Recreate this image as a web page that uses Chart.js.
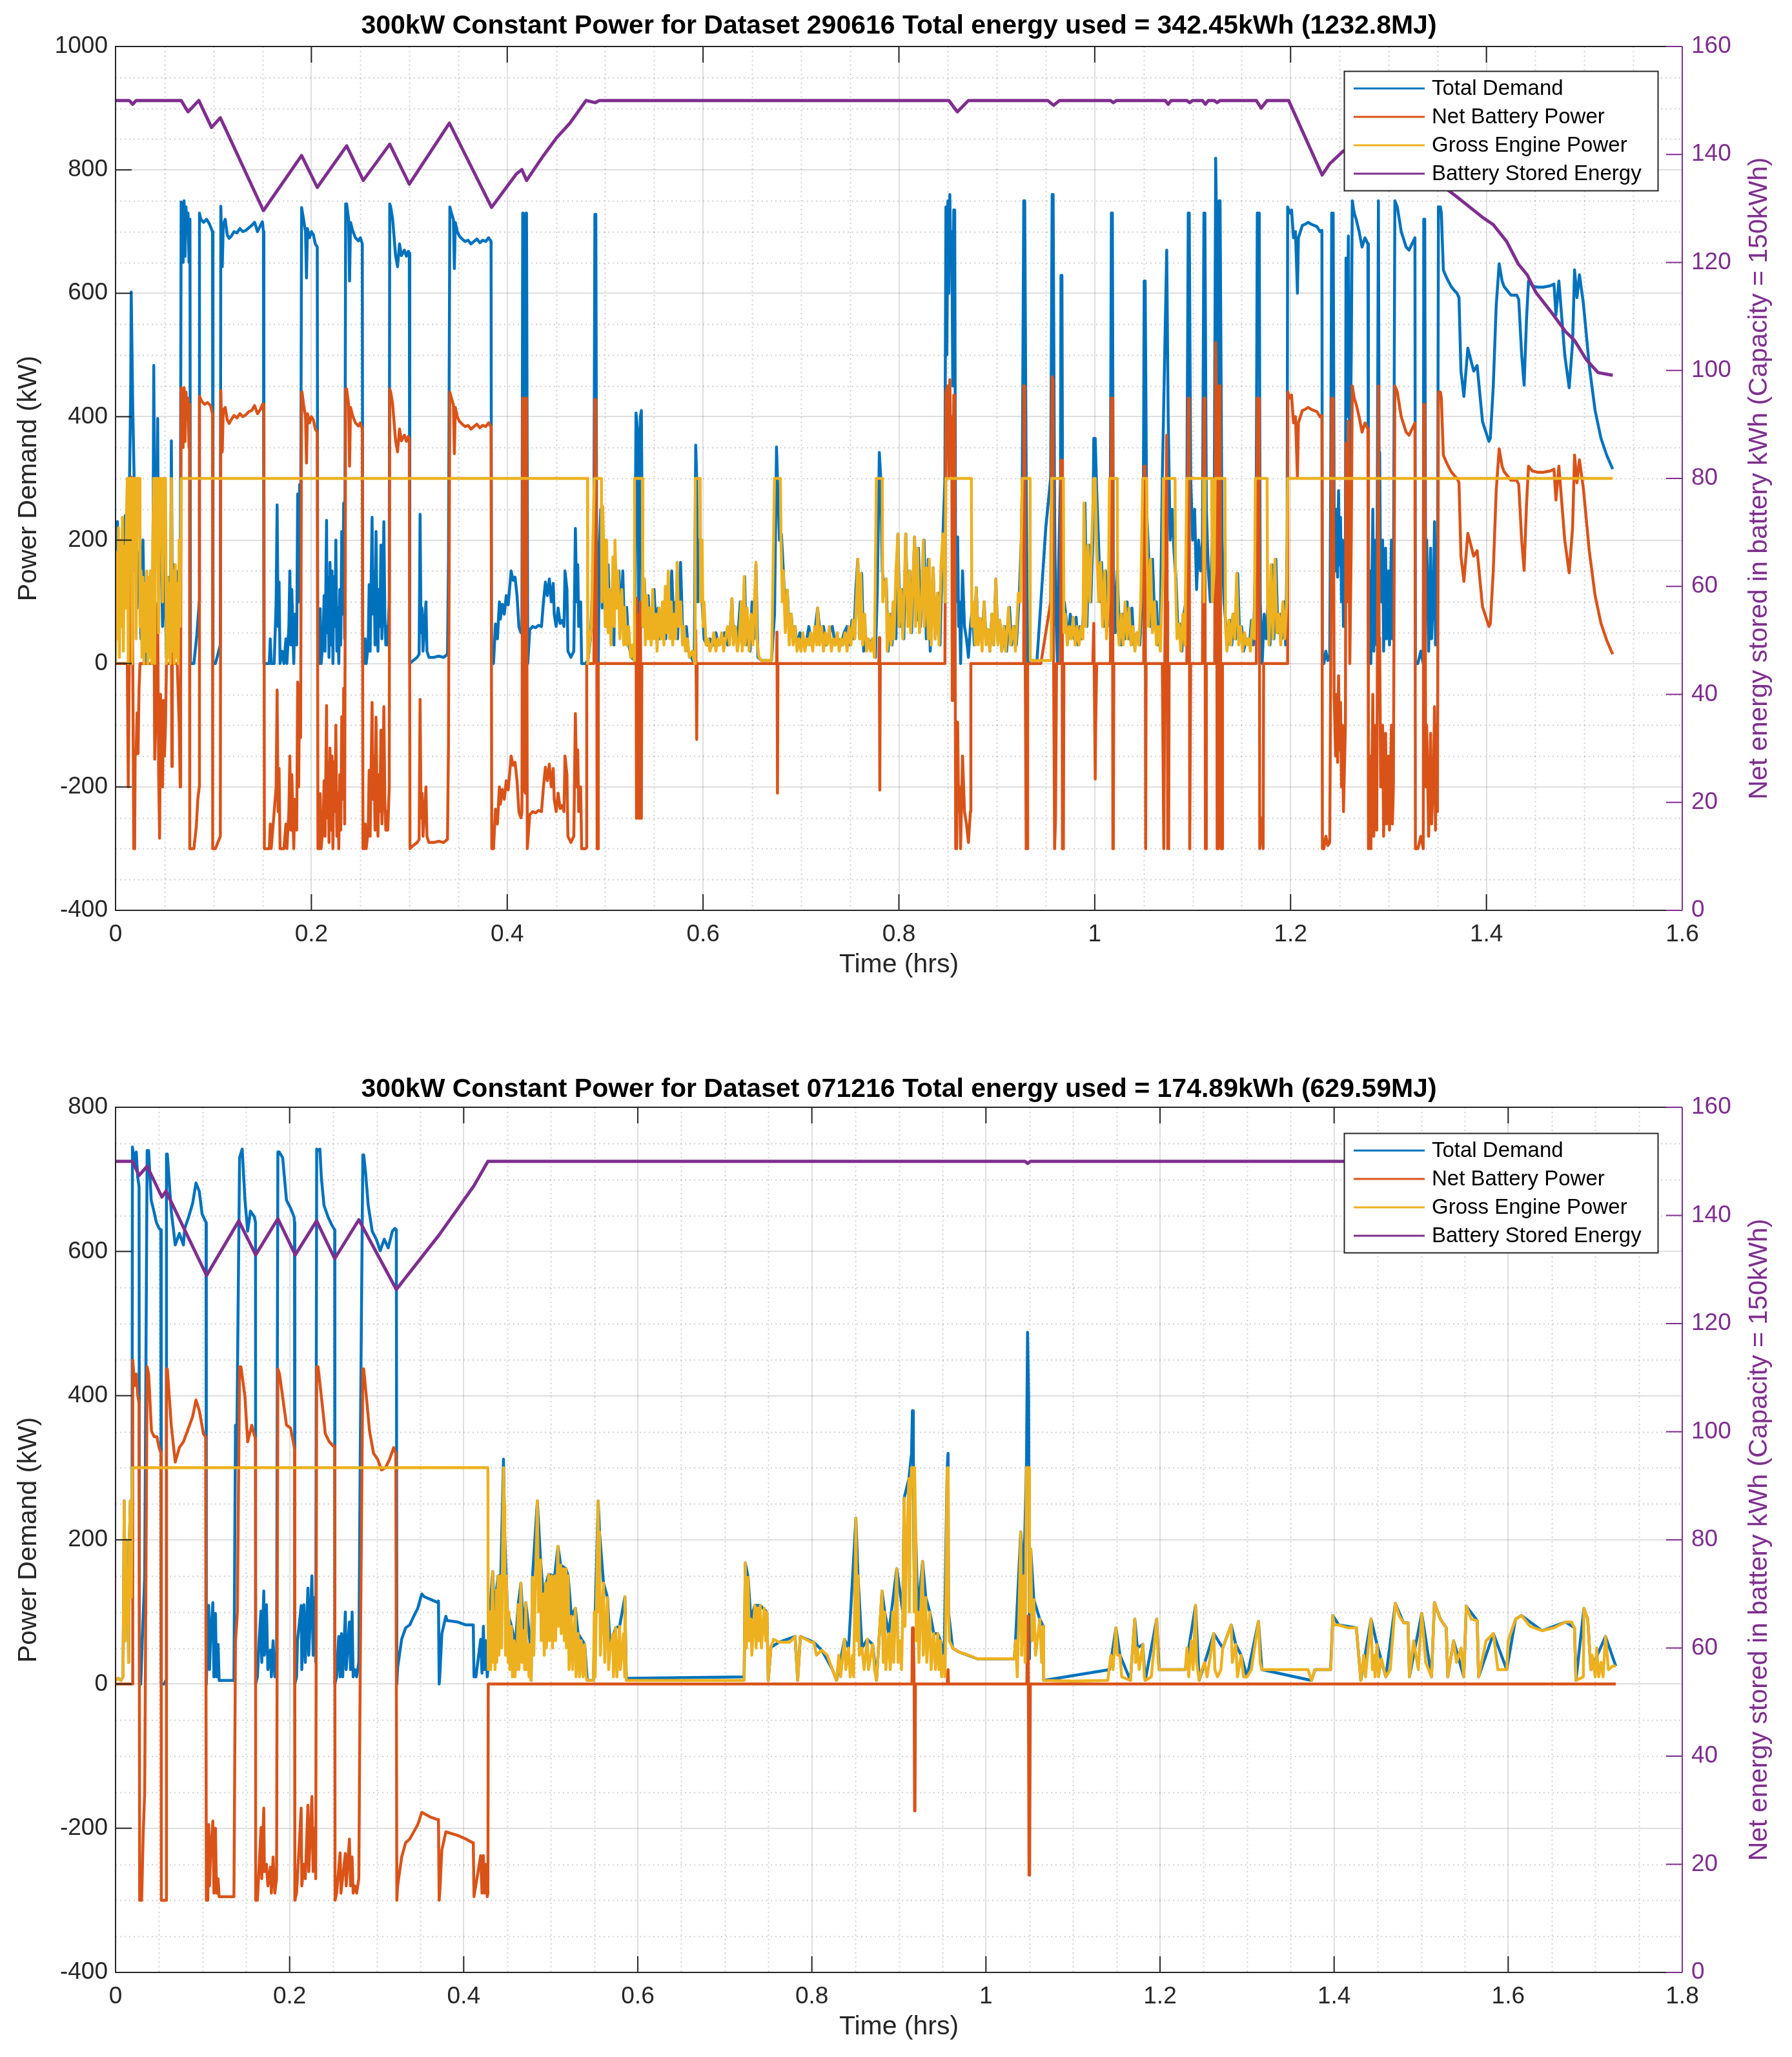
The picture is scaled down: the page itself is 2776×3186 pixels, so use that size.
<!DOCTYPE html>
<html lang="en">
<head>
  <meta charset="UTF-8" />
  <title>300kW Constant Power</title>
  <script src="https://cdn.jsdelivr.net/npm/chart.js"></script>
  <style>
    body { margin: 0; background: #fff; }
    .wrap { position: absolute; left: 0; width: 2776px; }
    #topWrap { top: 0; height: 1560px; }
    #botWrap { top: 1643px; height: 1543px; }
  </style>
</head>
<body>
  <div class="wrap" id="topWrap"><canvas id="topChart" width="2776" height="1560"></canvas></div>
  <div class="wrap" id="botWrap"><canvas id="botChart" width="2776" height="1543"></canvas></div>

  <script>
    // ---- Dataset 290616 (top) : [time hrs, kW] ----
    const topDemand = [
      [0,150],[0.002,230],[0.004,120],[0.006,200],[0.008,160],[0.010,240],[0.012,200],[0.014,260],[0.0155,450],[0.016,602],[0.0175,420],[0.019,300],[0.020,150],[0.021,230],[0.022,90],[0.024,180],[0.026,40],[0.028,200],[0.030,0],[0.032,130],[0.034,20],[0.036,150],[0.038,60],[0.039,483],[0.040,250],[0.042,200],[0.043,397],[0.044,120],[0.046,250],[0.048,60],[0.050,180],[0.052,10],[0.054,140],[0.056,30],[0.057,361],[0.058,80],[0.060,160],[0.062,20],[0.064,150],[0.066,40],
      [0.067,748],[0.069,650],[0.070,750],[0.071,660],[0.072,740],[0.073,700],[0.074,730],[0.075,650],[0.076,720],[0.0765,0],[0.080,0],[0.083,46],[0.0855,100],[0.0857,730],[0.087,720],[0.090,715],[0.093,720],[0.096,712],[0.099,700],[0.0995,0],[0.102,0],[0.105,18],[0.107,30],
      [0.1075,741],[0.109,643],[0.110,711],[0.112,720],[0.114,695],[0.116,689],[0.118,692],[0.121,700],[0.124,698],[0.127,705],[0.130,700],[0.133,702],[0.136,706],[0.139,710],[0.142,715],[0.145,700],[0.148,710],[0.150,716],[0.151,700],[0.1515,0],
      [0.154,0],[0.157,0],[0.158,40],[0.159,0],[0.162,0],[0.164,100],[0.165,257],[0.166,60],[0.167,132],[0.168,0],[0.170,20],[0.172,0],[0.174,40],[0.175,0],[0.177,60],[0.178,150],[0.179,30],[0.180,120],[0.182,0],[0.183,80],[0.185,30],[0.186,275],[0.187,100],[0.188,290],[0.189,180],
      [0.190,739],[0.192,720],[0.194,700],[0.195,625],[0.196,705],[0.198,690],[0.200,700],[0.202,695],[0.204,680],[0.206,675],[0.2065,0],
      [0.208,0],[0.209,89],[0.210,0],[0.212,40],[0.213,110],[0.214,20],[0.2155,232],[0.216,50],[0.217,140],[0.218,10],[0.219,164],[0.220,30],[0.221,150],[0.222,0],[0.223,141],[0.224,60],[0.225,200],[0.226,20],[0.227,90],[0.228,0],[0.229,120],[0.230,30],[0.231,214],[0.232,80],[0.233,260],[0.234,40],
      [0.235,745],[0.236,745],[0.238,720],[0.239,620],[0.240,715],[0.242,702],[0.245,690],[0.248,685],[0.250,690],[0.252,680],[0.2525,0],
      [0.254,0],[0.255,40],[0.256,0],[0.258,30],[0.259,128],[0.260,20],[0.262,237],[0.263,80],[0.264,150],[0.265,30],[0.266,214],[0.267,80],[0.268,20],[0.269,120],[0.270,60],[0.271,192],[0.272,40],[0.273,100],[0.274,230],[0.275,80],[0.276,30],[0.277,60],[0.278,30],[0.2795,100],
      [0.280,745],[0.281,740],[0.283,720],[0.284,700],[0.286,661],[0.288,643],[0.290,680],[0.292,661],[0.295,670],[0.297,660],[0.299,668],[0.300,665],[0.3005,0],
      [0.304,5],[0.308,10],[0.310,15],[0.311,242],[0.312,50],[0.313,90],[0.314,20],[0.317,100],[0.318,20],[0.320,10],[0.325,10],[0.330,12],[0.335,10],[0.339,15],[0.340,169],
      [0.3414,740],[0.343,730],[0.345,720],[0.346,640],[0.347,715],[0.349,700],[0.351,693],[0.354,688],[0.357,684],[0.360,686],[0.363,680],[0.366,684],[0.369,688],[0.372,682],[0.375,686],[0.378,684],[0.381,690],[0.3835,684],[0.384,0],
      [0.386,0],[0.388,64],[0.390,40],[0.392,100],[0.393,72],[0.395,96],[0.397,80],[0.399,110],[0.401,95],[0.404,150],[0.406,135],[0.408,140],[0.410,110],[0.412,59],[0.414,50],
      [0.415,60],[0.4158,730],[0.4163,730],[0.417,100],[0.4185,90],[0.4192,730],[0.4197,730],[0.421,0],
      [0.423,55],[0.426,60],[0.429,58],[0.432,62],[0.435,60],[0.437,100],[0.439,132],[0.441,110],[0.443,137],[0.445,100],[0.447,130],[0.448,80],[0.450,60],[0.452,90],[0.454,65],[0.456,70],[0.458,60],[0.459,150],[0.461,120],[0.462,20],[0.465,10],[0.468,20],[0.4696,219],[0.471,100],[0.472,160],[0.473,60],[0.475,100],[0.476,0],[0.480,0],[0.4825,5],
      [0.485,40],[0.487,120],[0.4885,220],[0.4895,728],[0.4905,728],[0.4915,90],[0.493,0],[0.494,180],[0.4955,250],[0.497,90],[0.499,200],[0.501,60],[0.503,160],[0.505,50],[0.507,120],[0.509,30],[0.510,173],[0.512,90],[0.514,150],[0.516,60],[0.518,150],[0.520,40],[0.522,91],[0.524,30],[0.527,10],[0.530,5],
      [0.5315,406],[0.533,380],[0.5345,0],[0.536,400],[0.537,410],[0.5385,60],[0.540,137],[0.542,50],[0.544,110],[0.546,40],[0.548,80],[0.550,120],[0.552,50],[0.554,90],[0.556,40],[0.558,70],[0.560,100],[0.562,40],[0.564,125],[0.566,50],[0.568,150],[0.570,60],[0.572,100],[0.574,40],[0.577,164],[0.579,60],[0.581,50],[0.583,60],[0.585,20],[0.588,10],[0.591,0],
      [0.5925,354],[0.5935,300],[0.5945,100],[0.5955,200],[0.597,200],[0.599,100],[0.601,40],[0.604,30],[0.607,40],[0.610,30],[0.613,50],[0.616,30],[0.619,40],[0.622,50],[0.625,30],[0.628,60],[0.6295,105],[0.631,40],[0.633,60],[0.635,30],[0.638,100],[0.640,30],[0.6425,141],[0.644,30],[0.646,60],[0.648,20],[0.650,100],[0.652,40],[0.654,160],[0.656,10],[0.660,5],[0.665,5],[0.670,5],[0.673,80],
      [0.675,351],[0.676,300],[0.678,200],[0.680,210],[0.682,150],[0.684,80],[0.686,119],[0.688,50],[0.690,80],[0.692,40],[0.694,60],[0.696,30],[0.699,50],[0.702,30],[0.705,30],[0.708,60],[0.711,30],[0.714,50],[0.717,90],[0.720,40],[0.723,60],[0.726,30],[0.729,50],[0.732,60],[0.735,30],[0.738,40],[0.741,30],[0.744,50],[0.747,60],[0.750,30],[0.752,70],[0.754,40],[0.756,120],[0.758,169],[0.760,40],[0.762,146],[0.764,20],[0.767,40],[0.770,30],[0.773,40],[0.776,10],[0.778,120],
      [0.780,342],[0.7815,300],[0.783,150],[0.785,120],[0.787,137],[0.789,20],[0.791,80],[0.793,30],[0.795,100],[0.797,40],[0.799,210],[0.801,60],[0.803,120],[0.805,40],[0.807,210],[0.809,80],[0.811,150],[0.813,50],[0.816,205],[0.818,70],[0.820,187],[0.822,60],[0.824,120],
      [0.8257,200],[0.828,40],[0.830,169],[0.832,20],[0.835,155],[0.837,40],[0.840,114],[0.842,30],[0.844,160],[0.845,210],[0.847,300],[0.848,740],[0.849,500],[0.850,750],[0.851,600],[0.852,760],[0.853,650],[0.854,700],[0.855,450],[0.856,735],[0.857,735],[0.858,100],[0.860,205],[0.861,60],[0.862,100],[0.863,0],[0.865,150],[0.867,60],[0.869,40],[0.871,10],
      [0.873,60],[0.875,90],[0.877,30],[0.879,123],[0.881,40],[0.883,73],[0.885,30],[0.887,100],[0.889,40],[0.891,55],[0.893,20],[0.895,80],[0.897,30],[0.899,137],[0.901,40],[0.903,70],[0.905,20],[0.908,60],[0.910,20],[0.913,91],[0.915,30],[0.918,60],[0.920,30],[0.923,114],[0.925,200],[0.926,300],
      [0.9275,750],[0.9285,750],[0.930,300],[0.9315,0],[0.934,5],[0.937,5],[0.941,5],[0.945,100],[0.950,220],[0.955,301],[0.9565,760],[0.9575,760],[0.959,250],[0.960,100],[0.962,0],[0.963,150],[0.965,300],[0.9655,629],[0.9665,629],[0.9675,50],
      [0.969,100],[0.971,70],[0.973,40],[0.975,80],[0.977,60],[0.979,40],[0.981,75],[0.983,30],[0.985,60],[0.987,40],[0.989,100],[0.990,260],[0.992,60],[0.994,192],[0.996,100],[0.998,200],[0.999,365],[1.0005,365],[1.002,280],[1.004,192],[1.006,100],[1.007,164],[1.009,60],[1.011,150],[1.013,60],[1.0145,100],
      [1.016,300],[1.017,730],[1.018,730],[1.019,150],[1.021,50],[1.023,150],[1.025,60],[1.027,30],[1.029,80],[1.031,40],[1.033,100],[1.035,40],[1.038,90],[1.040,30],[1.043,50],[1.046,30],[1.048,100],[1.0495,200],[1.0505,620],[1.0515,620],[1.053,250],[1.055,178],[1.057,60],[1.059,169],[1.061,80],[1.063,100],[1.065,30],[1.067,60],
      [1.069,300],[1.0735,670],[1.075,400],[1.077,200],[1.079,250],[1.081,180],[1.083,137],[1.085,50],[1.087,64],[1.089,20],[1.091,80],[1.093,100],[1.094,250],[1.0955,730],[1.0965,730],[1.098,300],[1.100,200],[1.102,250],[1.104,120],[1.106,200],[1.108,150],[1.110,200],[1.1115,730],[1.1125,730],[1.114,250],[1.116,150],[1.118,100],[1.120,200],[1.122,250],
      [1.1235,819],[1.1245,700],[1.126,300],[1.127,750],[1.128,750],[1.130,200],[1.132,100],[1.134,60],[1.136,30],[1.138,70],[1.140,30],[1.142,80],[1.144,40],[1.146,146],[1.148,40],[1.150,60],[1.152,20],[1.155,40],[1.158,30],[1.160,70],[1.162,30],[1.164,150],[1.165,300],[1.166,730],[1.168,730],[1.169,100],[1.171,0],
      [1.173,80],[1.175,40],[1.177,100],[1.179,30],[1.181,160],[1.183,40],[1.185,169],[1.187,50],[1.189,80],[1.191,40],[1.193,100],[1.195,30],[1.1965,200],
      [1.197,740],[1.199,730],[1.201,735],[1.203,690],[1.205,700],[1.207,600],[1.208,690],[1.210,700],[1.212,710],[1.215,712],[1.218,715],[1.221,712],[1.224,710],[1.227,708],[1.230,700],[1.232,702],[1.2325,0],[1.234,0],[1.236,20],[1.238,5],[1.240,10],
      [1.241,300],[1.242,730],[1.2435,730],[1.2445,246],[1.246,150],[1.247,250],[1.248,140],[1.249,280],[1.250,160],[1.251,237],[1.252,100],[1.253,200],[1.254,60],[1.256,200],[1.2566,657],[1.2575,400],[1.259,693],[1.2605,300],[1.262,500],
      [1.263,750],[1.265,730],[1.267,720],[1.270,700],[1.273,675],[1.276,690],[1.279,680],[1.2795,0],[1.281,150],[1.282,0],[1.284,250],[1.285,20],[1.287,200],[1.288,30],[1.2897,750],[1.290,750],[1.2905,300],[1.291,342],[1.292,100],[1.294,200],[1.295,20],[1.297,187],[1.298,40],[1.300,150],[1.301,30],[1.303,200],[1.304,40],[1.305,100],
      [1.3065,750],[1.309,740],[1.311,720],[1.313,700],[1.315,690],[1.318,675],[1.321,670],[1.324,680],[1.327,690],[1.3275,0],[1.330,0],[1.333,20],[1.3355,0],[1.336,720],[1.337,720],[1.338,100],[1.339,200],[1.341,20],[1.343,187],[1.344,40],[1.346,120],[1.347,230],[1.348,30],[1.349,200],[1.350,60],
      [1.351,740],[1.353,740],[1.354,730],[1.356,638],[1.358,630],[1.361,620],[1.364,611],[1.367,605],[1.370,600],[1.372,593],[1.374,474],[1.377,433],[1.381,511],[1.387,474],[1.3905,483],[1.396,392],[1.4026,360],[1.404,365],[1.407,450],[1.410,580],[1.413,648],[1.416,620],[1.418,611],[1.421,605],[1.425,597],[1.431,597],[1.433,590],[1.436,500],[1.4385,451],[1.441,560],[1.443,620],[1.447,612],[1.452,610],[1.458,610],[1.465,612],[1.469,615],[1.471,565],[1.474,620],[1.477,560],[1.480,500],[1.4845,447],[1.488,520],[1.490,638],[1.4925,593],[1.495,630],[1.499,584],[1.505,483],[1.511,410],[1.517,365],[1.523,337],[1.529,315]
    ];

    const topBattery = [
      [0,0],[0.010,0],[0.012,0],[0.013,-200],[0.014,0],[0.0145,100],[0.015,0],[0.016,302],[0.0172,120],[0.0186,-300],[0.019,-150],[0.0195,-300],[0.020,-150],[0.021,-146],[0.022,-80],[0.023,-146],[0.024,-40],[0.025,0],[0.038,0],[0.039,183],[0.040,-155],[0.041,-100],[0.0425,91],[0.043,97],[0.044,-180],[0.045,-283],[0.046,-50],[0.047,-120],[0.048,-200],[0.049,-60],[0.050,-150],[0.051,-100],[0.052,0],[0.056,0],[0.057,61],[0.0575,-167],[0.058,0],[0.063,0],[0.065,-100],[0.066,-200],[0.0665,-60],
      [0.067,447],[0.069,350],[0.070,447],[0.071,360],[0.072,440],[0.073,400],[0.074,430],[0.075,350],[0.0755,420],[0.0758,-300],[0.080,-300],[0.0825,-264],[0.084,-220],[0.0855,-200],[0.0857,433],[0.088,425],[0.091,420],[0.094,423],[0.097,418],[0.099,405],[0.0992,-300],[0.102,-300],[0.1045,-290],[0.107,-280],
      [0.1075,442],[0.109,343],[0.110,411],[0.112,415],[0.114,395],[0.116,389],[0.118,395],[0.121,402],[0.124,398],[0.127,405],[0.130,400],[0.133,403],[0.136,408],[0.139,410],[0.142,418],[0.145,405],[0.148,412],[0.150,420],[0.1515,420],[0.152,-300],
      [0.155,-300],[0.157,-300],[0.158,-260],[0.159,-300],[0.164,-200],[0.165,-43],[0.166,-240],[0.167,-170],[0.168,-300],[0.172,-300],[0.174,-260],[0.175,-300],[0.177,-240],[0.178,-150],[0.179,-270],[0.180,-180],[0.182,-300],[0.183,-220],[0.185,-270],[0.186,-30],[0.187,-200],[0.188,-35],[0.189,-120],
      [0.190,440],[0.1905,439],[0.192,420],[0.194,400],[0.195,325],[0.196,405],[0.198,390],[0.200,400],[0.202,395],[0.204,380],[0.206,375],[0.2067,-300],
      [0.208,-300],[0.209,-211],[0.210,-300],[0.212,-260],[0.213,-190],[0.214,-280],[0.2155,-68],[0.216,-250],[0.217,-160],[0.218,-290],[0.219,-137],[0.220,-270],[0.221,-150],[0.222,-300],[0.223,-159],[0.224,-240],[0.225,-100],[0.226,-280],[0.227,-210],[0.228,-300],[0.229,-180],[0.230,-270],[0.231,-86],[0.232,-220],[0.233,-40],[0.234,-260],
      [0.235,445],[0.236,445],[0.238,420],[0.239,320],[0.240,415],[0.242,402],[0.245,390],[0.248,385],[0.250,390],[0.252,380],[0.2527,-300],
      [0.254,-300],[0.255,-260],[0.256,-300],[0.258,-270],[0.259,-173],[0.260,-280],[0.262,-63],[0.263,-220],[0.264,-150],[0.265,-270],[0.266,-87],[0.267,-220],[0.268,-280],[0.269,-180],[0.270,-240],[0.271,-108],[0.272,-260],[0.273,-200],[0.274,-70],[0.275,-220],[0.276,-270],[0.277,-240],[0.278,-270],[0.2795,-200],
      [0.280,445],[0.281,440],[0.283,420],[0.284,400],[0.286,361],[0.288,343],[0.290,380],[0.292,361],[0.295,370],[0.297,360],[0.299,368],[0.300,365],[0.3007,-300],
      [0.304,-295],[0.308,-290],[0.310,-285],[0.311,-58],[0.312,-250],[0.313,-210],[0.314,-280],[0.317,-200],[0.318,-280],[0.320,-290],[0.325,-290],[0.330,-288],[0.335,-290],[0.339,-285],[0.340,-131],
      [0.3414,440],[0.343,430],[0.345,420],[0.346,340],[0.347,415],[0.349,400],[0.351,393],[0.354,388],[0.357,384],[0.360,386],[0.363,380],[0.366,384],[0.369,388],[0.372,382],[0.375,386],[0.378,384],[0.381,390],[0.3835,384],[0.3842,-300],
      [0.386,-300],[0.388,-236],[0.390,-260],[0.392,-200],[0.393,-228],[0.395,-204],[0.397,-220],[0.399,-190],[0.401,-205],[0.404,-150],[0.406,-165],[0.408,-160],[0.410,-190],[0.412,-241],[0.414,-250],
      [0.415,-240],[0.4158,430],[0.4163,430],[0.417,-200],[0.4185,-210],[0.4192,430],[0.4197,430],[0.4205,-300],[0.423,-245],[0.426,-240],[0.429,-242],[0.432,-238],[0.435,-240],[0.437,-200],[0.439,-168],[0.441,-190],[0.443,-163],[0.445,-200],[0.447,-170],[0.448,-220],[0.450,-240],[0.452,-210],[0.454,-235],[0.456,-230],[0.458,-240],[0.459,-150],[0.461,-180],[0.462,-280],[0.465,-290],[0.468,-280],[0.4696,-81],[0.471,-200],[0.472,-140],[0.473,-240],[0.475,-200],[0.476,-300],[0.480,-300],[0.481,-298],[0.4812,0],
      [0.4885,0],[0.4895,428],[0.4905,428],[0.4915,0],[0.4918,-300],[0.4925,-300],[0.493,0],[0.531,0],[0.5315,106],[0.532,-251],[0.533,80],[0.5345,-251],[0.535,0],[0.536,100],[0.537,-251],[0.5375,0],[0.592,0],[0.5925,54],[0.5935,-123],[0.594,0],[0.675,0],[0.6755,51],[0.676,-210],[0.6765,0],[0.7795,0],[0.780,42],[0.7805,-205],[0.781,0],
      [0.847,0],[0.848,440],[0.850,450],[0.851,300],[0.852,460],[0.853,350],[0.854,400],[0.8545,-60],[0.855,150],[0.856,435],[0.857,435],[0.8575,0],[0.858,-300],[0.859,-300],[0.860,-95],[0.861,-240],[0.862,-200],[0.863,-300],[0.865,-150],[0.867,-240],[0.869,-260],[0.871,-290],[0.873,-240],[0.8735,0],
      [0.927,0],[0.9275,450],[0.9285,450],[0.929,0],[0.930,-300],[0.931,-300],[0.9315,0],[0.945,0],[0.955,100],[0.9565,465],[0.9575,460],[0.958,0],[0.959,-300],[0.960,-250],[0.961,0],[0.965,0],[0.9655,329],[0.9665,329],[0.967,-300],[0.968,-300],[0.9685,0],
      [0.998,0],[0.999,65],[1.0005,-187],[1.001,-100],[1.002,0],[1.016,0],[1.017,430],[1.018,430],[1.0185,-300],[1.019,-300],[1.0195,0],[1.050,0],[1.0505,320],[1.0515,320],[1.052,-300],[1.0525,0],
      [1.069,0],[1.0705,-300],[1.0715,0],[1.0735,370],[1.074,100],[1.0745,-300],[1.0755,-300],[1.076,0],[1.094,0],[1.0955,430],[1.0965,430],[1.097,-300],[1.0975,-300],[1.098,0],[1.110,0],[1.1115,430],[1.1125,430],[1.113,-300],[1.1135,-300],[1.114,0],[1.1225,0],[1.1235,520],[1.1245,400],[1.125,-300],[1.126,-300],[1.127,450],[1.128,450],[1.129,-300],[1.130,-300],[1.1305,0],
      [1.165,0],[1.166,430],[1.168,430],[1.1685,-300],[1.170,-250],[1.172,-300],[1.1725,0],[1.197,0],
      [1.1972,440],[1.199,430],[1.201,435],[1.203,390],[1.205,400],[1.207,300],[1.208,390],[1.210,400],[1.212,410],[1.215,412],[1.218,415],[1.221,412],[1.224,410],[1.227,408],[1.230,400],[1.232,402],[1.2325,-300],[1.234,-300],[1.236,-280],[1.238,-295],[1.240,-290],
      [1.241,0],[1.242,430],[1.2435,430],[1.2445,-54],[1.246,-150],[1.247,-50],[1.248,-160],[1.249,-20],[1.250,-140],[1.251,-63],[1.252,-200],[1.253,-100],[1.254,-240],[1.256,-100],[1.2566,357],[1.2575,100],[1.259,393],[1.2605,0],[1.262,200],
      [1.263,450],[1.265,430],[1.267,420],[1.270,400],[1.273,375],[1.276,390],[1.279,380],[1.2795,-300],[1.281,-150],[1.282,-300],[1.284,-50],[1.285,-280],[1.287,-100],[1.288,-270],[1.2897,450],[1.290,450],[1.2905,0],[1.291,42],[1.292,-200],[1.294,-100],[1.295,-280],[1.297,-113],[1.298,-260],[1.300,-150],[1.301,-270],[1.303,-100],[1.304,-260],[1.305,-200],
      [1.3065,450],[1.309,440],[1.311,420],[1.313,400],[1.315,390],[1.318,375],[1.321,370],[1.324,380],[1.327,390],[1.3275,-300],[1.330,-300],[1.333,-280],[1.3355,-300],[1.336,420],[1.337,420],[1.338,-200],[1.339,-100],[1.341,-280],[1.343,-113],[1.344,-260],[1.346,-180],[1.347,-70],[1.348,-270],[1.349,-100],[1.350,-240],
      [1.351,440],[1.353,440],[1.354,430],[1.356,338],[1.358,330],[1.361,320],[1.364,311],[1.367,305],[1.370,300],[1.372,293],[1.374,174],[1.377,133],[1.381,211],[1.387,174],[1.3905,183],[1.396,92],[1.4026,60],[1.404,65],[1.407,150],[1.410,280],[1.413,348],[1.416,320],[1.418,311],[1.421,305],[1.425,297],[1.431,297],[1.433,290],[1.436,200],[1.4385,151],[1.441,260],[1.443,320],[1.447,312],[1.452,310],[1.458,310],[1.465,312],[1.469,315],[1.471,265],[1.474,320],[1.477,260],[1.480,200],[1.4845,147],[1.488,220],[1.490,338],[1.4925,293],[1.495,330],[1.499,284],[1.505,183],[1.511,110],[1.517,65],[1.523,37],[1.529,15]
    ];

    const topEngine = [
      [0,0],[0.001,180],[0.002,40],[0.003,220],[0.004,10],[0.005,200],[0.006,60],[0.007,237],[0.008,20],[0.009,190],[0.010,90],[0.011,230],[0.012,300],[0.013,0],[0.014,300],[0.016,300],[0.017,0],[0.018,300],[0.020,300],[0.021,40],[0.022,300],[0.0245,300],[0.025,60],[0.026,150],[0.027,10],[0.028,140],[0.029,0],[0.030,130],[0.031,20],[0.032,150],[0.033,0],[0.034,140],[0.035,10],[0.036,150],[0.037,0],[0.038,200],
      [0.039,300],[0.040,0],[0.041,300],[0.043,300],[0.044,50],[0.045,300],[0.047,300],[0.048,100],[0.049,300],[0.051,300],[0.052,0],[0.053,140],[0.054,10],[0.055,130],[0.056,0],[0.057,300],[0.058,20],[0.059,150],[0.060,0],[0.061,160],[0.062,10],[0.063,130],[0.064,0],[0.065,200],[0.066,60],[0.067,300],
      [0.482,300],[0.4822,0],[0.484,30],[0.486,60],[0.4875,200],[0.489,300],[0.4962,300],[0.4965,100],[0.4975,255],[0.499,164],[0.500,60],[0.5015,200],[0.503,50],[0.504,120],[0.506,30],[0.508,173],[0.5095,60],[0.510,200],[0.512,90],[0.513,150],[0.515,40],[0.517,120],[0.519,30],[0.520,91],[0.522,30],[0.524,60],[0.526,10],[0.528,30],[0.5295,5],
      [0.530,300],[0.538,300],[0.5385,60],[0.540,137],[0.541,30],[0.5425,110],[0.544,40],[0.545,90],[0.547,30],[0.5485,120],[0.550,40],[0.552,80],[0.553,20],[0.555,90],[0.557,40],[0.5585,100],[0.560,30],[0.5615,125],[0.563,50],[0.5645,150],[0.566,40],[0.5675,100],[0.569,30],[0.570,80],[0.572,40],[0.5735,164],[0.575,60],[0.577,100],[0.579,30],[0.5805,60],[0.582,20],[0.584,40],[0.586,10],[0.589,20],[0.5915,0],
      [0.592,300],[0.597,300],[0.5975,100],[0.599,200],[0.600,60],[0.601,100],[0.603,30],[0.605,40],[0.607,20],[0.609,30],[0.611,50],[0.613,20],[0.615,40],[0.617,30],[0.619,50],[0.621,20],[0.623,40],[0.625,60],[0.627,30],[0.6295,105],[0.631,30],[0.633,60],[0.635,20],[0.637,40],[0.639,100],[0.640,20],[0.642,141],[0.643,30],[0.645,90],[0.647,20],[0.649,80],[0.651,30],[0.653,120],[0.654,164],[0.655,40],[0.657,10],[0.660,5],[0.665,5],[0.670,5],
      [0.673,300],[0.679,300],[0.6795,210],[0.681,100],[0.682,150],[0.684,50],[0.686,119],[0.688,30],[0.690,80],[0.692,30],[0.694,60],[0.696,20],[0.698,40],[0.700,20],[0.702,50],[0.704,20],[0.706,40],[0.708,30],[0.710,50],[0.712,20],[0.714,60],[0.716,30],[0.717,90],[0.719,30],[0.721,60],[0.723,20],[0.725,50],[0.727,30],[0.729,60],[0.731,20],[0.733,40],[0.735,30],[0.737,50],[0.739,20],[0.741,40],[0.743,30],[0.745,50],[0.747,20],[0.749,60],[0.751,30],[0.753,70],[0.755,40],[0.757,120],[0.758,169],[0.760,40],[0.761,146],[0.763,30],[0.765,80],[0.767,20],[0.769,40],[0.771,20],[0.773,40],[0.775,10],
      [0.777,300],[0.783,300],[0.7835,100],[0.785,120],[0.787,137],[0.788,20],[0.790,80],[0.792,30],[0.794,100],[0.795,40],[0.797,150],[0.799,210],[0.800,60],[0.802,120],[0.804,40],[0.806,150],[0.807,210],[0.809,60],[0.811,150],[0.812,50],[0.814,120],[0.816,205],[0.817,60],[0.819,187],[0.821,50],[0.823,100],[0.825,200],[0.826,60],[0.828,155],[0.830,40],[0.831,169],[0.833,30],[0.835,155],[0.837,40],[0.839,114],[0.841,30],[0.843,160],[0.845,210],[0.847,100],
      [0.848,300],[0.874,300],[0.8745,60],[0.876,100],[0.878,30],[0.879,123],[0.881,30],[0.883,73],[0.885,20],[0.887,100],[0.889,30],[0.891,55],[0.893,20],[0.895,80],[0.897,30],[0.899,137],[0.901,30],[0.903,70],[0.905,20],[0.907,60],[0.909,20],[0.912,91],[0.914,30],[0.917,60],[0.919,20],[0.922,114],[0.924,100],
      [0.926,300],[0.934,300],[0.9342,5],[0.940,5],[0.950,5],[0.9555,5],[0.956,300],[0.968,300],[0.9685,50],[0.970,80],[0.972,30],[0.974,60],[0.976,40],[0.978,75],[0.980,30],[0.982,60],[0.984,30],[0.986,60],[0.988,40],[0.989,260],[0.991,60],[0.993,192],[0.995,100],[0.997,200],[0.999,300],[1.0005,300],[1.002,192],[1.004,100],[1.006,164],[1.008,60],[1.010,150],[1.012,40],[1.014,100],
      [1.015,300],[1.023,300],[1.0235,60],[1.025,30],[1.027,80],[1.029,30],[1.031,100],[1.033,40],[1.035,90],[1.037,30],[1.039,60],[1.041,20],[1.043,50],[1.045,30],[1.047,100],[1.049,300],[1.053,300],[1.0535,178],[1.055,60],[1.057,169],[1.059,50],[1.061,100],[1.063,30],[1.065,60],[1.067,20],[1.0695,150],
      [1.070,300],[1.082,300],[1.0825,137],[1.084,40],[1.086,64],[1.088,20],[1.090,80],[1.092,30],[1.094,300],[1.111,300],[1.1115,100],[1.113,300],[1.1195,300],[1.120,100],[1.122,150],[1.123,300],[1.133,300],[1.1335,60],[1.135,20],[1.137,70],[1.139,30],[1.141,80],[1.143,40],[1.145,146],[1.147,30],[1.149,60],[1.151,20],[1.153,50],[1.155,30],[1.157,40],[1.159,20],[1.161,70],[1.163,40],
      [1.164,300],[1.176,300],[1.1765,100],[1.178,30],[1.180,160],[1.182,40],[1.184,169],[1.186,50],[1.188,80],[1.190,30],[1.192,100],[1.194,40],[1.196,100],[1.197,300],[1.529,300]
    ];

    // [time hrs, kWh]
    const topStored = [
      [0,150],[0.014,150],[0.0175,149.3],[0.021,150],[0.067,150],[0.074,147.9],[0.085,150],[0.098,145.0],[0.107,146.8],[0.151,129.6],[0.190,139.8],[0.206,133.9],[0.236,141.6],[0.253,135.2],[0.280,141.9],[0.300,134.5],[0.341,145.8],[0.384,130.2],[0.4094,136.4],[0.4149,137.2],[0.4198,135.2],[0.437,139.8],[0.450,143.0],[0.464,145.8],[0.4805,150],[0.490,149.6],[0.494,150],
      [0.851,150],[0.8597,147.9],[0.871,150],[0.952,150],[0.958,149.1],[0.964,150],[1.016,150],[1.019,149.6],[1.022,150],[1.072,150],[1.075,149.3],[1.078,150],[1.094,150],[1.097,149.6],[1.100,150],[1.110,150],[1.113,149.3],[1.116,150],[1.122,150],[1.125,149.6],[1.128,150],[1.165,150],[1.170,148.6],[1.176,150],[1.198,150],
      [1.2322,136.2],[1.240,138.3],[1.2536,140.6],[1.263,141.5],[1.279,135.3],[1.2897,137.5],[1.3065,138.5],[1.327,133.5],[1.336,135],[1.351,136],[1.360,133.5],[1.3695,132.2],[1.3965,128.3],[1.407,127.0],[1.4206,123.9],[1.4326,119.7],[1.4417,117.7],[1.4507,114.4],[1.4658,110.9],[1.4808,107.2],[1.4898,105.6],[1.502,102.0],[1.514,99.6],[1.529,99.1]
    ];

    // ---- Dataset 071216 (bottom) ----
    const botDemand = [
      [0,5],[0.003,8],[0.006,5],[0.0086,10],[0.010,254],[0.011,60],[0.012,200],[0.013,100],[0.014,156],[0.015,30],[0.016,200],[0.017,254],[0.018,120],[0.019,250],
      [0.0194,745],[0.020,745],[0.022,722],[0.0238,738],[0.0255,703],[0.027,690],[0.0275,0],[0.029,0],[0.0307,60],[0.032,101],[0.0335,150],
      [0.0363,740],[0.038,740],[0.041,671],[0.044,656],[0.047,640],[0.050,632],[0.052,630],[0.0525,0],[0.056,0],[0.058,5],
      [0.0585,735],[0.0595,735],[0.064,656],[0.0686,609],[0.0733,625],[0.078,609],[0.0795,632],[0.084,648],[0.0886,667],[0.0924,695],[0.0963,683],[0.0994,652],[0.1025,644],[0.104,640],[0.1043,0],
      [0.1055,60],[0.107,109],[0.108,20],[0.109,60],[0.1118,113],[0.113,10],[0.114,70],[0.1148,98],[0.116,10],[0.1178,55],[0.119,5],[0.122,5],[0.127,5],[0.132,5],[0.136,5],[0.1378,359],[0.139,300],
      [0.1425,730],[0.1455,742],[0.1487,671],[0.1518,628],[0.155,656],[0.1595,648],[0.1608,640],[0.161,0],
      [0.163,10],[0.165,60],[0.167,101],[0.168,30],[0.1703,129],[0.171,40],[0.1734,110],[0.175,20],[0.178,47],[0.179,10],[0.181,60],[0.183,10],[0.185,30],
      [0.1865,738],[0.188,738],[0.192,730],[0.1964,671],[0.2011,660],[0.2051,648],[0.2056,640],[0.206,0],
      [0.208,10],[0.209,60],[0.2133,109],[0.214,20],[0.2164,110],[0.218,30],[0.221,133],[0.222,40],[0.2256,150],[0.227,40],[0.2287,120],[0.230,30],
      [0.2311,742],[0.2325,740],[0.2348,742],[0.2364,703],[0.2395,664],[0.2441,648],[0.2487,636],[0.2518,630],[0.252,0],
      [0.254,10],[0.2564,66],[0.258,10],[0.2595,70],[0.261,10],[0.264,100],[0.265,20],[0.2687,86],[0.270,20],[0.2718,100],[0.273,10],[0.2749,20],[0.277,10],[0.2795,30],[0.281,300],
      [0.2841,734],[0.2851,734],[0.2872,710],[0.2903,664],[0.2949,628],[0.2995,617],[0.3041,601],[0.3087,617],[0.3133,605],[0.3180,628],[0.3210,632],[0.3226,630],[0.3232,0],
      [0.3241,23],[0.3287,62],[0.3333,78],[0.3380,82],[0.3426,94],[0.3472,105],[0.3518,125],[0.3549,121],[0.3626,117],[0.3703,113],[0.371,115],[0.3718,0],[0.3725,10],[0.3749,70],[0.3795,94],[0.381,88],[0.3933,86],[0.4026,82],[0.4103,82],[0.411,82],[0.4118,10],[0.413,20],[0.414,10],[0.4195,62],[0.421,15],[0.4226,80],[0.424,20],[0.4257,60],[0.427,10],[0.4278,20],
      [0.4282,20],[0.430,100],[0.4333,156],[0.435,100],[0.4395,150],[0.4426,150],[0.4457,312],[0.4472,203],[0.4503,100],[0.455,80],[0.4595,55],[0.4626,110],[0.4657,140],[0.4688,74],[0.4714,113],[0.4765,55],[0.4775,5],[0.479,148],[0.4846,254],[0.4883,172],[0.4914,125],[0.4975,152],[0.5045,150],[0.5083,191],[0.5114,165],[0.5175,160],[0.520,150],[0.5237,94],[0.5283,105],[0.5314,70],[0.539,55],[0.542,5],[0.549,5],
      [0.5545,254],[0.5560,211],[0.5606,140],[0.5652,120],[0.5683,50],[0.5745,78],[0.5791,80],[0.5852,121],[0.5868,8],[0.7222,10],[0.7235,168],[0.7268,148],[0.7299,90],[0.7345,109],[0.7406,109],[0.7483,100],[0.7499,5],[0.7530,51],[0.7622,58],[0.7807,66],[0.7837,5],[0.7868,66],[0.8022,58],[0.8114,47],[0.8237,20],[0.8283,5],[0.8375,62],[0.8422,50],
      [0.8506,230],[0.8530,150],[0.8576,50],[0.8637,62],[0.8699,55],[0.8743,5],[0.8806,129],[0.8837,100],[0.8883,70],[0.8975,160],[0.9045,100],[0.906,258],[0.9115,285],[0.9145,320],[0.9155,379],[0.9165,379],[0.917,200],[0.918,124],[0.9195,200],[0.9218,100],[0.9272,170],[0.9309,120],[0.9355,100],[0.9401,70],[0.9447,70],[0.9478,60],[0.952,40],
      [0.9555,300],[0.9565,320],[0.957,100],[0.9617,50],[0.968,45],[0.990,35],[1.0325,35],[1.034,60],[1.040,211],[1.0435,150],[1.0465,300],[1.0478,488],[1.0490,400],[1.0500,35],[1.0515,187],[1.055,117],[1.0618,90],[1.066,80],[1.0663,5],[1.1420,20],
      [1.1494,78],[1.1540,40],[1.166,5],[1.1710,90],[1.1740,50],[1.1802,55],[1.1830,5],[1.1962,90],[1.199,20],[1.229,20],[1.2408,109],[1.245,5],[1.2618,70],[1.272,50],[1.2818,82],[1.287,55],[1.2932,40],[1.300,10],[1.3131,87],[1.317,20],[1.3740,5],[1.378,20],[1.396,20],
      [1.3985,95],[1.4053,82],[1.4256,78],[1.4307,5],[1.4425,90],[1.4493,55],[1.4595,10],[1.4703,112],[1.4798,85],[1.4849,85],[1.4866,10],[1.5007,98],[1.5119,10],[1.5153,113],[1.5221,90],[1.5289,78],[1.5306,10],[1.5373,60],[1.549,10],[1.5519,108],[1.5644,88],[1.566,10],[1.5830,70],[1.5983,20],[1.6084,90],[1.6152,95],[1.6389,74],[1.6660,86],[1.6762,78],[1.6779,5],[1.6870,105],[1.6914,90],[1.695,20],[1.7118,66],[1.7236,25]
    ];

    const botBattery = [
      [0,0],[0.0194,0],[0.0195,449],[0.020,449],[0.022,414],[0.0238,430],[0.0255,400],[0.027,390],[0.0277,-300],[0.030,-300],[0.0317,-210],[0.0335,-150],
      [0.0363,440],[0.038,430],[0.0413,351],[0.0444,343],[0.0475,343],[0.050,328],[0.0523,320],[0.0526,-300],[0.058,-300],
      [0.0585,437],[0.0595,437],[0.064,359],[0.0686,308],[0.0733,328],[0.078,336],[0.0826,351],[0.0886,371],[0.0924,394],[0.0963,379],[0.1010,347],[0.1035,343],[0.1043,-300],
      [0.106,-300],[0.107,-195],[0.108,-280],[0.109,-240],[0.1118,-190],[0.113,-290],[0.114,-230],[0.1148,-200],[0.116,-290],[0.1178,-270],[0.119,-295],[0.122,-295],[0.127,-295],[0.132,-295],[0.136,-295],[0.1378,59],[0.1400,100],
      [0.1425,440],[0.1441,440],[0.1487,398],[0.1518,336],[0.1565,359],[0.1595,345],[0.1608,340],[0.161,-300],
      [0.163,-300],[0.1672,-199],[0.168,-270],[0.1703,-172],[0.171,-260],[0.1734,-250],[0.175,-280],[0.178,-254],[0.179,-290],[0.181,-240],[0.183,-290],[0.185,-270],
      [0.1865,437],[0.1884,430],[0.1964,359],[0.2011,355],[0.2051,330],[0.2056,325],[0.206,-300],
      [0.208,-290],[0.2133,-172],[0.214,-280],[0.2164,-250],[0.218,-270],[0.221,-168],[0.222,-260],[0.2256,-156],[0.227,-260],[0.2287,-200],[0.230,-270],
      [0.2311,440],[0.2327,440],[0.2379,383],[0.2410,347],[0.2456,336],[0.2503,330],[0.2518,330],[0.2522,-300],
      [0.254,-290],[0.2580,-234],[0.259,-290],[0.264,-235],[0.265,-280],[0.2687,-215],[0.270,-280],[0.2718,-240],[0.273,-290],[0.2749,-280],[0.277,-290],[0.2795,-270],[0.281,0],
      [0.2841,437],[0.2851,437],[0.2882,398],[0.2918,351],[0.2964,320],[0.3010,312],[0.3056,297],[0.3102,300],[0.3149,312],[0.3195,328],[0.3220,320],[0.3232,-300],
      [0.3241,-280],[0.3287,-240],[0.3333,-220],[0.3380,-215],[0.3426,-205],[0.3472,-195],[0.3518,-178],[0.3549,-180],[0.3626,-185],[0.3703,-188],[0.371,-188],[0.3718,-300],[0.3725,-290],[0.3749,-230],[0.3795,-205],[0.3933,-210],[0.4026,-215],[0.4103,-220],[0.411,-220],[0.4118,-295],[0.4195,-238],[0.421,-290],[0.4226,-238],[0.424,-290],[0.4257,-250],[0.427,-295],[0.4278,-290],[0.4282,0],
      [0.9150,0],[0.9155,78],[0.9165,78],[0.9175,0],[0.918,-176],[0.9185,-176],[0.919,0],[0.9555,0],[0.9565,20],[0.957,0],[1.0470,0],[1.0478,94],[1.0485,94],[1.0495,-265],[1.0502,-265],[1.051,0],[1.7236,0]
    ];

    const botEngine = [
      [0,5],[0.003,8],[0.006,5],[0.0086,10],[0.010,254],[0.011,60],[0.012,200],[0.013,100],[0.014,156],[0.015,30],[0.016,200],[0.017,254],[0.018,120],[0.019,250],[0.0194,300],[0.4278,300],[0.4282,20],
      [0.430,100],[0.431,20],[0.4333,156],[0.434,30],[0.435,100],[0.436,20],[0.4375,130],[0.438,30],[0.4395,150],[0.4405,40],[0.4426,150],[0.4435,50],[0.4457,300],[0.4465,250],[0.4472,203],[0.448,40],[0.449,150],[0.450,100],[0.451,30],[0.452,100],[0.453,20],[0.455,80],[0.456,10],[0.458,60],[0.459,10],[0.4595,55],[0.461,20],[0.4626,110],[0.4635,20],[0.4657,140],[0.467,30],[0.4688,74],[0.470,20],[0.4714,113],[0.4725,20],[0.474,55],[0.475,10],[0.4765,55],[0.4775,5],
      [0.479,148],[0.4805,40],[0.4846,254],[0.486,100],[0.4883,172],[0.489,60],[0.4914,125],[0.4925,40],[0.494,140],[0.495,50],[0.4975,152],[0.4985,60],[0.501,150],[0.502,50],[0.5045,150],[0.5055,60],[0.5083,191],[0.509,80],[0.5114,165],[0.512,70],[0.5145,160],[0.5155,60],[0.5175,160],[0.518,50],[0.520,150],[0.521,20],[0.5237,94],[0.525,20],[0.5283,105],[0.529,10],[0.5314,70],[0.533,10],[0.535,60],[0.537,10],[0.539,55],[0.5406,10],[0.542,5],[0.546,5],[0.549,5],
      [0.550,100],[0.551,10],[0.5545,254],[0.555,100],[0.5560,211],[0.557,40],[0.5606,140],[0.562,30],[0.5652,120],[0.5665,20],[0.5683,50],[0.5714,70],[0.572,10],[0.5745,78],[0.576,10],[0.5791,80],[0.580,20],[0.5837,70],[0.585,10],[0.5852,121],[0.5868,5],[0.620,5],[0.660,5],[0.700,5],[0.7222,5],
      [0.7235,168],[0.7248,50],[0.7268,148],[0.728,60],[0.7299,90],[0.731,40],[0.7345,109],[0.736,50],[0.7375,105],[0.739,60],[0.7406,109],[0.742,50],[0.7453,105],[0.747,60],[0.7483,100],[0.7499,5],[0.7530,51],[0.7560,62],[0.7622,58],[0.7684,58],[0.7745,58],[0.7807,66],[0.7837,5],[0.7868,66],[0.7930,62],[0.7991,58],[0.8022,58],[0.8053,40],[0.8114,47],[0.8176,40],[0.8237,20],[0.8283,5],
      [0.831,40],[0.833,10],[0.8375,62],[0.839,20],[0.8422,50],[0.844,10],[0.8468,40],[0.848,10],[0.8506,230],[0.852,60],[0.8530,150],[0.8545,40],[0.8576,50],[0.860,20],[0.8637,62],[0.865,20],[0.8699,55],[0.872,20],[0.8743,5],[0.876,40],[0.8806,129],[0.882,30],[0.8837,100],[0.885,20],[0.8883,70],[0.890,20],[0.893,100],[0.894,30],[0.8975,160],[0.899,30],[0.901,60],[0.903,20],[0.9045,100],
      [0.906,258],[0.907,80],[0.909,200],[0.9115,285],[0.912,100],[0.913,250],[0.9145,300],[0.917,300],[0.9175,100],[0.918,300],[0.9195,200],[0.920,60],[0.9218,100],[0.923,30],[0.9272,170],[0.928,40],[0.9309,120],[0.932,30],[0.9355,100],[0.937,20],[0.9401,70],[0.942,20],[0.9447,70],[0.946,20],[0.9478,60],[0.949,10],[0.952,40],[0.953,10],
      [0.9555,300],[0.9565,300],[0.957,100],[0.958,60],[0.9617,50],[0.968,45],[0.980,40],[0.990,35],[1.000,35],[1.010,35],[1.020,35],[1.0325,35],[1.034,60],[1.036,10],[1.038,100],[1.040,211],[1.041,40],[1.0435,150],[1.045,30],[1.0465,300],[1.0495,300],[1.050,100],[1.0515,187],[1.053,60],[1.055,117],[1.057,40],[1.0618,90],[1.064,30],[1.066,80],[1.0663,5],[1.100,4],[1.140,5],
      [1.1435,40],[1.146,20],[1.1494,78],[1.151,40],[1.1540,40],[1.156,10],[1.166,5],[1.168,40],[1.1710,90],[1.172,30],[1.1740,50],[1.176,20],[1.1802,55],[1.182,10],[1.1830,5],[1.190,10],[1.1962,90],[1.198,30],[1.199,20],[1.210,20],[1.220,20],[1.229,20],[1.231,50],[1.233,10],[1.236,60],[1.238,20],[1.2408,109],[1.242,30],[1.245,5],[1.248,20],[1.2512,30],[1.254,10],[1.2618,70],[1.263,20],[1.266,10],[1.270,20],[1.272,50],[1.2818,82],[1.283,30],[1.287,55],[1.289,10],[1.2932,40],[1.296,10],[1.300,10],[1.305,20],[1.3131,87],[1.315,30],[1.317,20],[1.340,20],[1.370,20],[1.3740,5],[1.378,20],[1.396,20],
      [1.397,40],[1.3985,95],[1.400,82],[1.4053,82],[1.4154,78],[1.4256,78],[1.4307,5],[1.4340,40],[1.436,10],[1.4425,90],[1.444,20],[1.4459,40],[1.447,10],[1.4493,55],[1.451,10],[1.4544,35],[1.4595,10],[1.4645,20],[1.4703,112],[1.4747,95],[1.4798,85],[1.4849,85],[1.4866,10],[1.4914,60],[1.4967,20],[1.5007,98],[1.5052,30],[1.5119,10],[1.5153,113],[1.5221,90],[1.5289,78],[1.5306,10],[1.5373,60],[1.5407,30],[1.5458,50],[1.549,10],
      [1.5519,108],[1.5576,90],[1.5644,88],[1.566,10],[1.5678,20],[1.5746,60],[1.5830,70],[1.5881,20],[1.5949,20],[1.5983,20],[1.6000,60],[1.6084,90],[1.6152,95],[1.6186,90],[1.6253,80],[1.6389,74],[1.6525,78],[1.6660,86],[1.6728,86],[1.6762,78],[1.6779,5],[1.6863,10],[1.6870,105],[1.6914,90],[1.695,20],[1.6965,40],[1.700,10],[1.7016,50],[1.704,10],[1.7067,30],[1.709,10],[1.7118,66],[1.7152,20],[1.7202,25],[1.7236,25]
    ];

    const botStored = [
      [0,150],[0.0194,150],[0.027,147.4],[0.0363,149.1],[0.0532,143.4],[0.058,144.5],[0.1046,128.9],[0.1416,139.0],[0.161,132.7],[0.1865,139.4],[0.2065,132.7],[0.231,139.0],[0.2518,132.0],[0.2795,139.2],[0.3226,126.3],[0.3718,136.4],[0.4118,145.5],[0.4278,150],[1.045,150],[1.048,149.6],[1.051,150],[1.7236,150]
    ];

    const seriesNames = ['Total Demand', 'Net Battery Power', 'Gross Engine Power', 'Battery Stored Energy'];
    const topTitle = '300kW Constant Power for Dataset 290616 Total energy used = 342.45kWh (1232.8MJ)';
    const botTitle = '300kW Constant Power for Dataset 071216 Total energy used = 174.89kWh (629.59MJ)';

    const C = { blue: '#0072BD', orange: '#D95319', yellow: '#EDB120', purple: '#7E2F8E', axis: '#262626' };
    const FONT = "'Liberation Sans', Arial, Helvetica, sans-serif";

    const toXY = arr => arr.map(p => ({ x: p[0], y: p[1] }));

    // MATLAB-ish axes: minor grid, box, inward ticks, rotated labels, legend inside
    const matlabAxes = {
      id: 'matlabAxes',
      beforeDatasetsDraw(chart, args, o) {
        const { ctx, chartArea: a, scales: { x, y } } = chart;
        ctx.save();
        ctx.strokeStyle = 'rgba(38,38,38,0.22)';
        ctx.lineWidth = 2;
        ctx.setLineDash([2, 5]);
        const nx = Math.round(o.xMax / 0.05);
        for (let i = 1; i < nx; i++) {
          if (i % 4 === 0) continue;
          const px = Math.round(x.getPixelForValue(i * 0.05)) + 0.5;
          ctx.beginPath(); ctx.moveTo(px, a.top); ctx.lineTo(px, a.bottom); ctx.stroke();
        }
        const ny = Math.round((o.yMax - o.yMin) / 50);
        for (let i = 1; i < ny; i++) {
          if (i % 4 === 0) continue;
          const py = Math.round(y.getPixelForValue(o.yMin + i * 50)) + 0.5;
          ctx.beginPath(); ctx.moveTo(a.left, py); ctx.lineTo(a.right, py); ctx.stroke();
        }
        ctx.restore();
      },
      afterDatasetsDraw(chart, args, o) {
        const { ctx, chartArea: a, scales: { x, y, y2 } } = chart;
        const tl = 25;
        ctx.save();
        ctx.lineWidth = 2;
        ctx.strokeStyle = C.axis;
        ctx.beginPath();
        ctx.moveTo(a.right, a.top); ctx.lineTo(a.left, a.top); ctx.lineTo(a.left, a.bottom); ctx.lineTo(a.right, a.bottom);
        ctx.stroke();
        x.ticks.forEach(t => {
          const px = x.getPixelForValue(t.value);
          ctx.beginPath();
          ctx.moveTo(px, a.bottom); ctx.lineTo(px, a.bottom - tl);
          ctx.moveTo(px, a.top); ctx.lineTo(px, a.top + tl);
          ctx.stroke();
        });
        y.ticks.forEach(t => {
          const py = y.getPixelForValue(t.value);
          ctx.beginPath(); ctx.moveTo(a.left, py); ctx.lineTo(a.left + tl, py); ctx.stroke();
        });
        ctx.strokeStyle = C.purple;
        ctx.beginPath(); ctx.moveTo(a.right, a.top); ctx.lineTo(a.right, a.bottom); ctx.stroke();
        y2.ticks.forEach(t => {
          const py = y2.getPixelForValue(t.value);
          ctx.beginPath(); ctx.moveTo(a.right, py); ctx.lineTo(a.right - tl, py); ctx.stroke();
        });
        ctx.restore();
      },
      afterDraw(chart, args, o) {
        const { ctx, chartArea: a } = chart;
        const midY = (a.top + a.bottom) / 2;
        ctx.save();
        // title
        ctx.fillStyle = '#000';
        ctx.font = 'bold 41px ' + FONT;
        ctx.textAlign = 'center';
        ctx.textBaseline = 'middle';
        ctx.fillText(o.title, (a.left + a.right) / 2, a.top - o.titleGap);
        // axis titles
        ctx.fillStyle = C.axis;
        ctx.font = '41px ' + FONT;
        ctx.fillText('Time (hrs)', (a.left + a.right) / 2, a.bottom + o.xTitleGap);
        ctx.save();
        ctx.translate(45, midY); ctx.rotate(-Math.PI / 2);
        ctx.fillText('Power Demand (kW)', 0, 0);
        ctx.restore();
        ctx.save();
        ctx.fillStyle = C.purple;
        ctx.translate(a.right + 120, midY); ctx.rotate(-Math.PI / 2);
        ctx.fillText('Net energy stored in battery kWh (Capacity = 150kWh)', 0, 0);
        ctx.restore();
        // legend box
        const bw = 486, bh = 185;
        const bx = a.right - 38 - bw, by = a.top + o.legendGap;
        ctx.fillStyle = '#fff';
        ctx.fillRect(bx, by, bw, bh);
        ctx.strokeStyle = C.axis; ctx.lineWidth = 2;
        ctx.strokeRect(bx + 0.5, by + 0.5, bw, bh);
        ctx.font = '33px ' + FONT;
        ctx.textAlign = 'left';
        chart.data.datasets.forEach((ds, i) => {
          const ry = by + 27 + i * 44;
          ctx.strokeStyle = ds.borderColor; ctx.lineWidth = 3;
          ctx.beginPath(); ctx.moveTo(bx + 15, ry); ctx.lineTo(bx + 125, ry); ctx.stroke();
          ctx.fillStyle = '#000';
          ctx.fillText(ds.label, bx + 136, ry + 1);
        });
        ctx.restore();
      }
    };

    function makeChart(id, cfg) {
      const tickFont = { family: FONT, size: 37 };
      return new Chart(document.getElementById(id), {
        type: 'line',
        data: {
          datasets: [
            { label: seriesNames[0], data: toXY(cfg.demand), borderColor: C.blue, yAxisID: 'y', order: 3 },
            { label: seriesNames[1], data: toXY(cfg.battery), borderColor: C.orange, yAxisID: 'y', order: 2 },
            { label: seriesNames[2], data: toXY(cfg.engine), borderColor: C.yellow, yAxisID: 'y', order: 1 },
            { label: seriesNames[3], data: toXY(cfg.stored), borderColor: C.purple, yAxisID: 'y2', order: 0, borderWidth: 5 }
          ]
        },
        options: {
          responsive: false,
          animation: false,
          devicePixelRatio: 1,
          layout: { padding: { top: 72, left: 0, right: 0, bottom: 0 } },
          elements: { point: { radius: 0 }, line: { borderWidth: 4.5, tension: 0, borderJoinStyle: 'round' } },
          plugins: {
            legend: { display: false },
            tooltip: { enabled: false },
            matlabAxes: { xMax: cfg.xMax, yMin: cfg.yMin, yMax: cfg.yMax, title: cfg.title, titleGap: cfg.titleGap, xTitleGap: 85, legendGap: cfg.legendGap }
          },
          scales: {
            x: {
              type: 'linear', min: 0, max: cfg.xMax,
              ticks: { stepSize: 0.2, autoSkip: false, maxRotation: 0, padding: 16, color: C.axis, font: tickFont,
                       callback: v => String(+v.toFixed(2)) },
              grid: { color: 'rgba(38,38,38,0.15)', lineWidth: 2, drawTicks: false },
              border: { display: false },
              afterFit: s => { s.height = cfg.xAxisH; }
            },
            y: {
              position: 'left', min: cfg.yMin, max: cfg.yMax,
              ticks: { stepSize: 200, padding: 12, color: C.axis, font: tickFont, callback: v => String(v) },
              grid: { color: 'rgba(38,38,38,0.15)', lineWidth: 2, drawTicks: false },
              border: { display: false },
              afterFit: s => { s.width = 179; }
            },
            y2: {
              position: 'right', min: 0, max: 160,
              ticks: { stepSize: 20, padding: 14, color: C.purple, font: tickFont, callback: v => String(v) },
              grid: { display: false, drawTicks: false },
              border: { display: false },
              afterFit: s => { s.width = 170; }
            }
          }
        },
        plugins: [matlabAxes]
      });
    }

    makeChart('topChart', { demand: topDemand, battery: topBattery, engine: topEngine, stored: topStored,
      xMax: 1.6, yMin: -400, yMax: 1000, xAxisH: 150, title: topTitle, titleGap: 31, legendGap: 38 });
    makeChart('botChart', { demand: botDemand, battery: botBattery, engine: botEngine, stored: botStored,
      xMax: 1.8, yMin: -400, yMax: 800, xAxisH: 131, title: botTitle, titleGap: 27, legendGap: 40 });
  </script>
</body>
</html>
